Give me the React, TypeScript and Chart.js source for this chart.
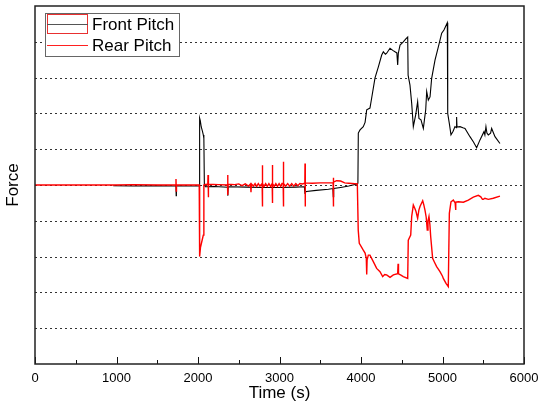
import React, { useEffect, useRef } from 'react';
import { Chart, registerables } from 'chart.js';

Chart.register(...registerables);

const seriesNames = ['Front Pitch', 'Rear Pitch'];
const xAxisTitle = 'Time (s)';
const yAxisTitle = 'Force';
const xTickValues = [0, 1000, 2000, 3000, 4000, 5000, 6000];

const frontTime = [
  960, 1200, 1500, 1730, 1732, 1735, 1900, 2015, 2020, 2028, 2040, 2055, 2065, 2072, 2078, 2090,
  2200, 2364, 2366, 2370, 2600, 2800, 3000, 3200, 3305, 3312, 3330, 3450, 3600, 3655, 3660, 3665,
  3750, 3850, 3950, 3962, 3967, 3988, 4028, 4050, 4070, 4110, 4131, 4172, 4213, 4254, 4274, 4300,
  4315, 4356, 4390, 4417, 4440, 4450, 4458, 4479, 4519, 4550, 4573, 4578, 4601, 4622, 4642, 4671,
  4695, 4711, 4736, 4765, 4794, 4806, 4826, 4847, 4867, 4908, 4949, 4990, 5018, 5059,
  5064, 5085, 5104, 5130, 5153, 5170, 5173, 5178, 5215, 5250, 5276, 5337, 5380, 5419, 5460, 5509,
  5520, 5533, 5545, 5562, 5590, 5603, 5644, 5705,
];
const frontForce = [
  -0.02, -0.03, -0.02, -0.03, -0.3, -0.02, -0.03, -0.03, 1.87, 1.8, 1.62, 1.5, 1.4, 1.3, 0.0, -0.05,
  -0.04, -0.06, -0.3, -0.05, -0.06, -0.07, -0.07, -0.06, -0.05, -0.22, -0.18, -0.15, -0.12, -0.1, -0.33, -0.1,
  -0.07, -0.03, 0.03, 0.05, 1.45, 1.54, 1.63, 1.75, 2.1, 2.15, 2.43, 2.99, 3.3, 3.63, 3.72, 3.65,
  3.68, 3.82, 3.76, 3.72, 3.69, 3.35, 3.68, 3.91, 4.0, 4.08, 4.13, 3.07, 2.79, 2.28, 1.63, 1.96,
  2.33, 1.86, 1.82, 1.58, 2.1, 2.61, 2.37, 2.46, 2.98, 3.49, 3.86, 4.24, 4.33, 4.53,
  2.0, 1.7, 1.4, 1.5, 1.63, 1.6, 1.9, 1.62, 1.63, 1.6, 1.58, 1.35, 1.2, 1.04, 1.26, 1.49,
  1.4, 1.63, 1.45, 1.4, 1.45, 1.58, 1.35, 1.16,
];

const rearTime = [
  0, 1000, 1200, 1500, 1728, 1730, 1733, 1736, 2000, 2015, 2020, 2030, 2045, 2057, 2065, 2072,
  2100, 2120, 2123, 2126, 2130, 2250, 2362, 2364, 2367, 2370, 2450, 2500, 2540, 2580, 2620, 2645,
  2650, 2655, 2680, 2700, 2720, 2740, 2760, 2787, 2789, 2791, 2794, 2810, 2830, 2850, 2870, 2890,
  2910, 2912, 2914, 2917, 2935, 2955, 2975, 2995, 3015, 3030, 3045, 3047, 3049, 3052, 3075, 3100,
  3125, 3150, 3175, 3200, 3225, 3250, 3280, 3311, 3313, 3315, 3318, 3400, 3500, 3600, 3658, 3660,
  3662, 3665, 3700, 3750, 3800, 3850, 3955, 3966, 3979, 4028, 4050, 4065, 4070, 4075, 4090, 4110,
  4151, 4192, 4233, 4266, 4290, 4315, 4356, 4397, 4450, 4455, 4460, 4490, 4519, 4573, 4580, 4610,
  4622, 4642, 4660, 4675, 4695, 4710, 4724, 4757, 4770, 4785, 4800, 4813, 4822, 4834, 4845, 4855,
  4879, 4900, 4928, 4969, 5000, 5010, 5043, 5071, 5084, 5104, 5133, 5155, 5160, 5165, 5194, 5256,
  5317, 5378, 5439, 5470, 5490, 5501, 5520, 5562, 5623, 5705,
];
const rearForce = [
  0, 0, 0.01, 0, 0, 0.17, -0.17, 0, 0, 0, -2.0, -1.75, -1.6, -1.48, -1.4, 0,
  0.02, 0, 0.28, -0.34, 0.02, 0.01, 0, 0.28, -0.28, 0.02, 0.01, 0.03, -0.02, 0.03, -0.03, 0.03,
  -0.2, 0.03, -0.03, 0.04, -0.04, 0.04, -0.03, 0.04, 0.55, -0.6, 0.04, -0.04, 0.04, -0.04, 0.04, -0.04,
  0.04, 0.56, -0.5, 0.04, -0.04, 0.04, -0.04, 0.04, -0.04, 0.04, 0.04, 0.65, -0.6, 0.04, -0.03, 0.04,
  -0.03, 0.04, -0.03, 0.04, -0.02, 0.04, 0.03, 0.05, 0.6, -0.6, 0.06, 0.05, 0.06, 0.06, 0.06, 0.2,
  -0.6, 0.08, 0.12, 0.11, 0.06, 0.05, 0.03, -1.26, -1.63, -1.82, -1.9, -2.05, -2.5, -2.09, -1.96, -1.96,
  -2.14, -2.33, -2.42, -2.56, -2.5, -2.51, -2.58, -2.51, -2.48, -2.2, -2.48, -2.52, -2.56, -2.61, -1.54, -1.4,
  -0.88, -0.56, -0.65, -0.74, -0.93, -0.7, -0.6, -0.44, -0.55, -0.7, -0.9, -1.26, -1.0, -0.88, -1.1, -1.44,
  -2.05, -2.15, -2.28, -2.42, -2.55, -2.61, -2.75, -2.84, -0.79, -0.47, -0.42, -0.5, -0.7, -0.48, -0.47, -0.48,
  -0.42, -0.34, -0.29, -0.33, -0.4, -0.4, -0.37, -0.4, -0.37, -0.31,
];

const FONT = '"Liberation Sans", Arial, sans-serif';

const decorPlugin = {
  id: 'decor',
  beforeDatasetsDraw(chart: any) {
    const { ctx, chartArea } = chart;
    const y = chart.scales.y;
    ctx.save();
    ctx.strokeStyle = '#333';
    ctx.lineWidth = 1;
    ctx.setLineDash([2, 3]);
    y.ticks.forEach((t: any) => {
      if (t.value <= y.min || t.value >= y.max) return;
      const py = Math.round(y.getPixelForValue(t.value)) + 0.5;
      ctx.beginPath();
      ctx.moveTo(chartArea.left, py);
      ctx.lineTo(chartArea.right, py);
      ctx.stroke();
    });
    ctx.restore();
  },
  afterDatasetsDraw(chart: any) {
    const { ctx, chartArea } = chart;
    const x = chart.scales.x;
    ctx.save();
    ctx.strokeStyle = '#111';
    ctx.lineWidth = 1;
    ctx.setLineDash([]);
    x.ticks.forEach((t: any, i: number) => {
      const px = Math.round(x.getPixelForValue(t.value)) + 0.5;
      ctx.beginPath();
      ctx.moveTo(px, chartArea.bottom);
      ctx.lineTo(px, chartArea.bottom - 7);
      ctx.stroke();
      if (i < x.ticks.length - 1) {
        const mid = (t.value + x.ticks[i + 1].value) / 2;
        const pm = Math.round(x.getPixelForValue(mid)) + 0.5;
        ctx.beginPath();
        ctx.moveTo(pm, chartArea.bottom);
        ctx.lineTo(pm, chartArea.bottom - 4);
        ctx.stroke();
      }
    });
    ctx.strokeStyle = '#222';
    ctx.lineWidth = 1.5;
    ctx.strokeRect(chartArea.left, chartArea.top, chartArea.right - chartArea.left, chartArea.bottom - chartArea.top);
    // legend
    const lx = 45.5, ly = 13.5;
    ctx.fillStyle = '#fff';
    ctx.fillRect(lx, ly, 134, 43);
    ctx.strokeStyle = '#666';
    ctx.lineWidth = 1;
    ctx.strokeRect(lx, ly, 134, 43);
    ctx.strokeStyle = '#e83030';
    ctx.strokeRect(47.5, 14.5, 40, 19);
    ctx.strokeStyle = '#555';
    ctx.beginPath();
    ctx.moveTo(47, 24.5);
    ctx.lineTo(88, 24.5);
    ctx.stroke();
    ctx.strokeStyle = '#ff2020';
    ctx.beginPath();
    ctx.moveTo(47, 45.5);
    ctx.lineTo(88, 45.5);
    ctx.stroke();
    ctx.fillStyle = '#000';
    ctx.font = `17px ${FONT}`;
    ctx.textBaseline = 'middle';
    ctx.textAlign = 'left';
    ctx.fillText(seriesNames[0], 92, 25);
    ctx.fillText(seriesNames[1], 92, 46);
    ctx.restore();
  },
};

export default function App() {
  const ref = useRef<HTMLCanvasElement | null>(null);
  useEffect(() => {
    if (!ref.current) return;
    const front = frontTime.map((t, i) => ({ x: t, y: frontForce[i] }));
    const rear = rearTime.map((t, i) => ({ x: t, y: rearForce[i] }));
    const chart = new Chart(ref.current, {
      type: 'line',
      data: {
        datasets: [
          { label: seriesNames[0], data: front, borderColor: '#000', borderWidth: 1.1, pointRadius: 0, tension: 0, order: 1 },
          { label: seriesNames[1], data: rear, borderColor: '#ff0000', borderWidth: 1.4, pointRadius: 0, tension: 0, order: 0 },
        ],
      },
      options: {
        animation: false,
        responsive: false,
        maintainAspectRatio: false,
        layout: { padding: { top: 6, right: 15, left: 0, bottom: 0 } },
        plugins: { legend: { display: false }, tooltip: { enabled: false } },
        scales: {
          x: {
            type: 'linear',
            min: 0,
            max: 6000,
            afterBuildTicks: (s: any) => { s.ticks = xTickValues.map((v) => ({ value: v })); },
            ticks: { color: '#000', font: { family: FONT, size: 13 }, padding: 7, maxRotation: 0, callback: (v: any) => String(v) },
            grid: { display: false, drawTicks: false },
            border: { display: false },
            title: { display: true, text: xAxisTitle, color: '#000', font: { family: FONT, size: 17 }, padding: { top: 0, bottom: 16 } },
            afterFit: (s: any) => { s.height = 56; s.paddingLeft = 0; s.paddingRight = 0; },
          },
          y: {
            type: 'linear',
            min: -5,
            max: 5,
            ticks: { display: false, stepSize: 1 },
            grid: { display: false, drawTicks: false },
            border: { display: false },
            title: { display: true, text: yAxisTitle, color: '#000', font: { family: FONT, size: 17 }, padding: { top: 3, bottom: 0 } },
            afterFit: (s: any) => { s.width = 35; s.paddingTop = 0; s.paddingBottom = 0; },
          },
        },
      },
      plugins: [decorPlugin],
    });
    return () => chart.destroy();
  }, []);
  return (
    <div style={{ position: 'fixed', left: 0, top: 0, width: 539, height: 420, background: '#fff' }}>
      <canvas ref={ref} width={539} height={420} style={{ display: 'block' }} />
    </div>
  );
}
